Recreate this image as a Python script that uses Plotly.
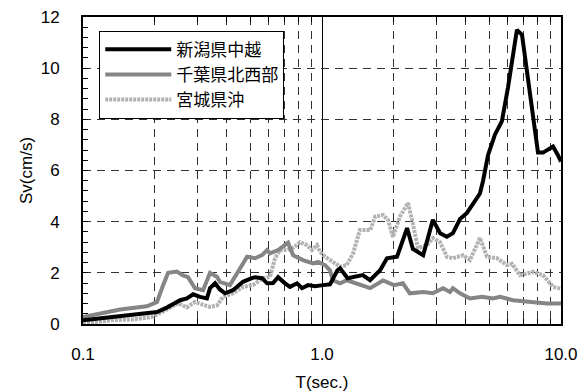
import plotly.graph_objects as go

# Velocity response spectra Sv(T) for three earthquakes
names = ["新潟県中越", "千葉県北西部", "宮城県沖"]

t_niigata = [0.1, 0.1335, 0.147, 0.162, 0.185, 0.204, 0.225, 0.255, 0.272, 0.289, 0.309, 0.330,
             0.340, 0.357, 0.374, 0.393, 0.424, 0.467, 0.509, 0.524, 0.561, 0.589, 0.624, 0.655,
             0.700, 0.735, 0.786, 0.825, 0.874, 0.935, 1.01, 1.08, 1.16, 1.19, 1.28, 1.40, 1.48,
             1.59, 1.75, 1.87, 2.06, 2.27, 2.40, 2.65, 2.91, 3.12, 3.33, 3.53, 3.78, 4.04, 4.58,
             4.72, 4.95, 5.29, 5.66, 6.00, 6.54, 6.87, 7.42, 8.01, 8.41, 9.26, 9.71, 10.0]
sv_niigata = [0.15, 0.27, 0.34, 0.38, 0.42, 0.47, 0.65, 0.93, 1.0, 1.16, 1.06, 1.0,
              1.4, 1.59, 1.35, 1.2, 1.32, 1.65, 1.79, 1.83, 1.79, 1.59, 1.6, 1.83,
              1.59, 1.45, 1.59, 1.4, 1.52, 1.48, 1.52, 1.55, 2.1, 2.18, 1.79, 1.84, 1.91,
              1.71, 2.1, 2.57, 2.63, 3.75, 2.93, 2.69, 4.07, 3.55, 3.41, 3.55, 4.1, 4.34, 5.1,
              5.6, 6.6, 7.4, 7.93, 9.24, 11.5, 11.3, 8.85, 6.7, 6.7, 6.94, 6.6, 6.35]

t_chiba = [0.1, 0.143, 0.185, 0.204, 0.216, 0.227, 0.247, 0.262, 0.275, 0.294, 0.318, 0.340,
           0.364, 0.374, 0.412, 0.441, 0.486, 0.524, 0.561, 0.589, 0.606, 0.655, 0.721, 0.757,
           0.833, 0.917, 0.962, 1.03, 1.08, 1.11, 1.19, 1.27, 1.40, 1.59, 1.80, 2.0, 2.18, 2.33,
           2.65, 2.91, 3.21, 3.43, 3.53, 3.78, 4.16, 4.67, 5.19, 5.56, 6.30, 7.42, 8.74, 10.0]
sv_chiba = [0.27, 0.57, 0.69, 0.86, 1.5, 2.0, 2.05, 1.9, 1.83, 1.4, 1.32, 2.0,
            1.84, 1.65, 1.52, 2.0, 2.63, 2.57, 2.69, 2.89, 2.76, 2.89, 3.18, 2.69,
            2.5, 2.37, 2.43, 2.3, 2.1, 1.71, 1.59, 1.71, 1.59, 1.4, 1.7, 1.52, 1.59, 1.2,
            1.25, 1.2, 1.4, 1.25, 1.4, 1.2, 1.0, 1.06, 1.0, 1.06, 0.93, 0.86, 0.8, 0.8]

t_miyagi = [0.1, 0.1145, 0.1335, 0.162, 0.194, 0.210, 0.231, 0.250, 0.272, 0.294, 0.324, 0.340,
            0.364, 0.385, 0.424, 0.467, 0.514, 0.566, 0.606, 0.636, 0.667, 0.714, 0.757, 0.809,
            0.865, 0.908, 0.953, 0.981, 1.03, 1.11, 1.19, 1.27, 1.35, 1.44, 1.59, 1.67, 1.80,
            1.89, 1.98, 2.12, 2.29, 2.38, 2.52, 2.75, 2.91, 3.12, 3.33, 3.53, 3.89, 4.16, 4.58,
            4.90, 5.40, 5.94, 6.24, 6.73, 7.64, 8.41, 9.26, 10.0]
sv_miyagi = [0.03, 0.08, 0.15, 0.18, 0.27, 0.43, 0.65, 0.81, 0.65, 0.86, 0.73, 0.67,
             0.73, 1.06, 1.2, 1.45, 1.52, 1.79, 1.84, 2.57, 2.89, 2.9, 2.97, 3.2,
             3.08, 2.89, 3.08, 2.82, 2.63, 2.43, 2.24, 2.3, 2.77, 3.67, 3.67, 4.2, 4.26,
             4.07, 3.4, 4.2, 4.73, 4.07, 2.97, 3.08, 3.36, 3.2, 2.63, 2.57, 2.69, 2.5, 3.36,
             2.63, 2.57, 2.3, 2.35, 1.91, 2.04, 1.91, 1.45, 1.38]

x_tickvals = [0.1, 1.0, 10.0]
x_ticktext = ["0.1", "1.0", "10.0"]
x_minor = [0.2, 0.3, 0.4, 0.5, 0.6, 0.7, 0.8, 0.9, 2, 3, 4, 5, 6, 7, 8, 9]
y_tickvals = [0, 2, 4, 6, 8, 10, 12]

LATIN = "Arial, Liberation Sans, sans-serif"
CJK = "Noto Sans CJK JP, sans-serif"

fig = go.Figure()
fig.add_trace(go.Scatter(x=t_miyagi, y=sv_miyagi, name=names[2], mode="lines", legendrank=3,
                         line=dict(color="#b2b2b2", width=4, dash="3px,1px")))
fig.add_trace(go.Scatter(x=t_chiba, y=sv_chiba, name=names[1], mode="lines", legendrank=2,
                         line=dict(color="#858585", width=4)))
fig.add_trace(go.Scatter(x=t_niigata, y=sv_niigata, name=names[0], mode="lines", legendrank=1,
                         line=dict(color="#000000", width=4)))

fig.update_layout(
    width=587, height=392,
    margin=dict(l=83, r=26, t=17, b=68),
    paper_bgcolor="white", plot_bgcolor="white",
    font=dict(family=LATIN, size=17, color="black"),
    showlegend=True,
    legend=dict(x=0.034, y=0.955, xanchor="left", yanchor="top",
                bgcolor="white", bordercolor="black", borderwidth=1,
                font=dict(family=CJK, size=17, color="black"),
                itemwidth=66, tracegroupgap=0),
)

fig.update_xaxes(
    type="log", range=[-1, 1], automargin=False,
    tickmode="array", tickvals=x_tickvals, ticktext=x_ticktext,
    ticks="inside", ticklen=5, tickwidth=1, tickcolor="black",
    showline=True, linecolor="black", linewidth=2, mirror="ticks",
    showgrid=True, gridcolor="black", gridwidth=1,
    ticklabelstandoff=14,
    tickfont=dict(family=LATIN, size=17),
    minor=dict(tickmode="array", tickvals=x_minor, ticks="inside", ticklen=5,
               tickcolor="black", tickwidth=1,
               showgrid=True, gridcolor="#333333", gridwidth=1, griddash="8px,6px"),
    title=dict(text="T(sec.)", font=dict(family=LATIN, size=17), standoff=13),
    zeroline=False,
)

fig.update_yaxes(
    range=[0, 12], automargin=False,
    tickmode="array", tickvals=y_tickvals,
    ticks="inside", ticklen=5, tickwidth=1, tickcolor="black",
    showline=True, linecolor="black", linewidth=2, mirror=True,
    showgrid=True, gridcolor="#333333", gridwidth=1, griddash="8px,6px",
    ticklabelstandoff=18,
    tickfont=dict(family=LATIN, size=17),
    minor=dict(dtick=0.4, tick0=0, ticks="inside", ticklen=5, tickcolor="black",
               tickwidth=1, showgrid=False),
    title=dict(text="Sv(cm/s)", font=dict(family=LATIN, size=17), standoff=4),
    zeroline=False,
)

fig.write_html("out.html")
